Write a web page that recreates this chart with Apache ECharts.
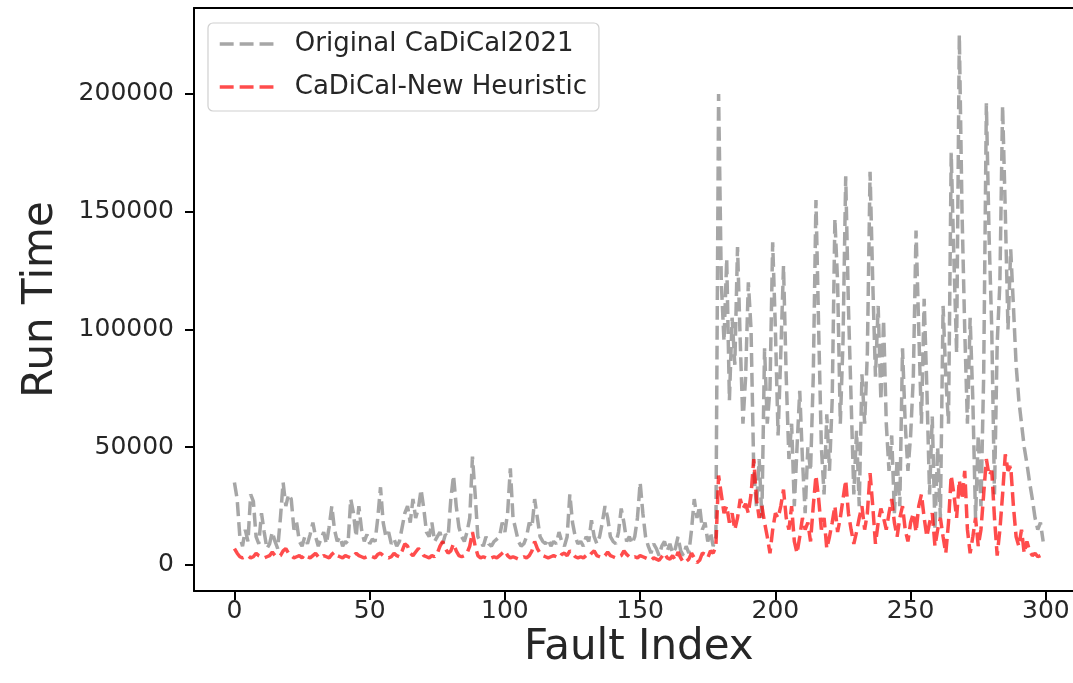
<!DOCTYPE html>
<html>
<head>
<meta charset="utf-8">
<script src="https://cdn.jsdelivr.net/npm/echarts@6/dist/echarts.min.js"></script>
<style>
html,body{margin:0;padding:0;background:#fff;}
#chart{width:1073px;height:683px;}
</style>
</head>
<body>
<div id="chart"></div>
<script>
const xTicks = [0, 50, 100, 150, 200, 250, 300];
const yTicks = [0, 50000, 100000, 150000, 200000];
const seriesNames = ['Original CaDiCal2021', 'CaDiCal-New Heuristic'];

const original = [
35000,28000,12000,8000,15000,10000,30000,27000,12000,9000,
22000,14000,7000,9000,14000,10000,7000,20000,35000,25000,
30000,28000,15000,18000,10000,8000,12000,9000,13000,18000,
12000,8000,11000,14000,9000,16000,25000,15000,10000,12000,
8000,10000,9000,28000,22000,12000,25000,15000,10000,13000,
9000,11000,10000,20000,33000,18000,12000,14000,9000,11000,
8000,10000,16000,22000,25000,18000,28000,20000,24000,32000,
24000,14000,12000,18000,10000,12000,14000,9000,13000,12000,
28000,38000,25000,16000,12000,10000,14000,20000,46000,30000,
12000,10000,8000,12000,9000,8000,10000,11000,12000,18000,
14000,22000,41000,20000,15000,10000,8000,9000,12000,18000,
16000,28000,20000,12000,10000,9000,11000,8000,10000,9000,
14000,10000,8000,12000,30000,18000,12000,9000,10000,8000,
12000,10000,19000,12000,9000,12000,18000,25000,20000,12000,
10000,9000,14000,24000,18000,10000,12000,9000,12000,20000,
35000,22000,12000,8000,5000,9000,7000,4000,8000,10000,
6000,9000,5000,7000,12000,6000,4000,8000,5000,15000,
28000,20000,25000,15000,18000,10000,14000,8000,12000,200000,
120000,95000,130000,70000,105000,85000,135000,95000,60000,80000,
120000,100000,40000,25000,45000,20000,92000,60000,75000,137000,
100000,55000,90000,127000,80000,45000,60000,25000,50000,74000,
45000,22000,50000,40000,80000,155000,100000,50000,30000,64000,
40000,70000,147000,120000,60000,95000,165000,110000,70000,30000,
57000,25000,81000,60000,90000,167000,120000,80000,110000,70000,
104000,60000,40000,55000,22000,45000,25000,92000,60000,40000,
55000,80000,142000,100000,60000,113000,75000,30000,63000,15000,
50000,20000,110000,80000,60000,175000,130000,90000,225000,150000,
100000,60000,105000,70000,20000,55000,25000,80000,196000,140000,
100000,30000,94000,120000,195000,150000,100000,134000,110000,85000,
70000,60000,50000,43000,35000,28000,20000,15000,18000,10000
];

const heuristic = [
7000,5000,3500,3000,3500,4000,3000,3500,5000,4000,
3500,3000,3500,4000,5500,4000,3500,4000,6000,7000,
5000,4000,3000,3500,4000,3000,4500,3500,3000,4000,
5000,3500,3000,4000,3500,3000,4500,5500,4000,3500,
3000,4000,3500,3000,4000,5000,4000,3500,3000,3500,
4000,3500,3000,4500,5000,4000,3500,3000,3500,5000,
4000,3500,6000,9000,8000,5000,4000,5500,7000,6000,
4000,3500,3000,4000,3500,5000,8000,10000,7000,5000,
6000,9000,6000,4000,3500,4000,5000,8000,14000,8000,
4000,3000,3500,3000,2500,3000,3500,3000,4000,5000,
6000,4000,3000,3500,3000,2500,3000,3500,3000,4000,
6000,10000,7000,5000,4000,3500,3000,3500,4000,3500,
3000,4500,5000,4000,6000,5000,3500,3000,3500,3000,
4000,3500,5000,6000,4000,3500,3000,4000,5500,4000,
3500,3000,3500,4000,6000,4500,3500,3000,3500,3000,
4000,3500,3000,2500,2000,3000,2500,2000,3500,5000,
3000,2500,4000,2000,5500,3000,1000,1500,2500,5000,
3000,1000,2000,5000,4500,3000,6000,5000,8000,38000,
30000,22000,25000,18000,22000,15000,20000,28000,24000,26000,
22000,30000,45000,28000,20000,25000,18000,12000,5000,15000,
22000,20000,25000,32000,20000,15000,25000,10000,5000,12000,
20000,15000,18000,10000,25000,38000,28000,15000,20000,7000,
12000,18000,25000,14000,20000,28000,36000,22000,15000,9000,
14000,20000,25000,15000,22000,39000,25000,9000,18000,24000,
20000,15000,22000,28000,18000,12000,20000,25000,15000,10000,
18000,22000,14000,25000,30000,20000,12000,18000,22000,8000,
15000,20000,12000,5000,18000,38000,30000,20000,36000,28000,
40000,15000,5000,12000,20000,8000,15000,30000,45000,38000,
40000,20000,4000,15000,30000,47000,40000,42000,25000,12000,
8000,15000,5000,10000,6000,4000,5000,3500,4000,3500
];

const toPairs = arr => arr.map((v, i) => [i, v]);
const font = 'DejaVu Sans';

const chart = echarts.init(document.getElementById('chart'), null, {renderer: 'canvas'});
chart.setOption({
  animation: false,
  backgroundColor: '#ffffff',
  grid: {
    left: 194, top: 8, width: 889.6, height: 583,
    outerBoundsMode: 'none', containLabel: false, show: false
  },
  legend: {
    show: true,
    orient: 'vertical',
    left: 208, top: 23,
    padding: [8, 12, 11, 10],
    itemGap: 17,
    itemWidth: 54, itemHeight: 16,
    itemStyle: {opacity: 0},
    lineStyle: {width: 3.5, type: [13.9, 6]},
    backgroundColor: 'rgba(255,255,255,0.8)',
    borderColor: '#d0d0d0', borderWidth: 1.2, borderRadius: 5,
    textStyle: {fontFamily: font, fontSize: 26, color: '#262626', padding: [0, 0, 0, 16]},
    data: seriesNames
  },
  xAxis: [{
    type: 'value', min: -14.95, max: 313.95,
    axisLine: {show: true, onZero: false, lineStyle: {color: '#000', width: 2}},
    axisTick: {show: true, length: 9, lineStyle: {color: '#000', width: 2}, customValues: xTicks},
    axisLabel: {fontFamily: font, fontSize: 25, color: '#262626', margin: 8, customValues: xTicks,
      formatter: v => String(v)},
    splitLine: {show: false},
    name: 'Fault Index', nameLocation: 'middle', nameGap: 36, nameMoveOverlap: false,
    nameTextStyle: {fontFamily: font, fontSize: 42, color: '#262626'}
  }, {
    type: 'value', position: 'top', min: -14.95, max: 313.95,
    axisLine: {show: true, onZero: false, lineStyle: {color: '#000', width: 2}},
    axisTick: {show: false}, axisLabel: {show: false}, splitLine: {show: false}
  }],
  yAxis: {
    type: 'value', min: -11040, max: 236500,
    axisLine: {show: true, onZero: false, lineStyle: {color: '#000', width: 2}},
    axisTick: {show: true, length: 9, lineStyle: {color: '#000', width: 2}, customValues: yTicks},
    axisLabel: {fontFamily: font, fontSize: 25, color: '#262626', margin: 20, customValues: yTicks,
      formatter: v => String(v)},
    splitLine: {show: false},
    name: 'Run Time', nameLocation: 'middle', nameGap: 132, nameMoveOverlap: false,
    nameTextStyle: {fontFamily: font, fontSize: 42, color: '#262626'}
  },
  series: [
    {
      name: seriesNames[0], type: 'line', symbol: 'none', showSymbol: false,
      data: toPairs(original),
      lineStyle: {color: 'rgba(128,128,128,0.7)', width: 3.5, type: [13.9, 6]},
      itemStyle: {color: 'rgba(128,128,128,0.7)'}
    },
    {
      name: seriesNames[1], type: 'line', symbol: 'none', showSymbol: false,
      data: toPairs(heuristic),
      lineStyle: {color: 'rgba(255,0,0,0.7)', width: 3.5, type: [13.9, 6]},
      itemStyle: {color: 'rgba(255,0,0,0.7)'}
    }
  ]
});
</script>
</body>
</html>
